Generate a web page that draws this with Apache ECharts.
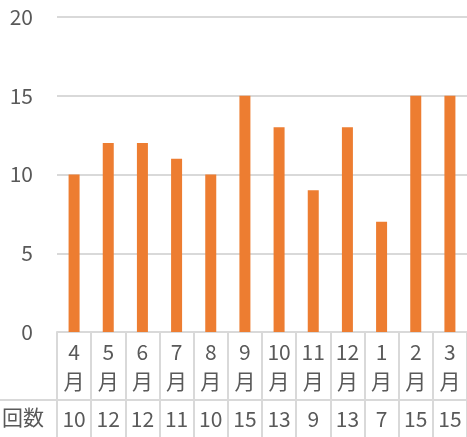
<!DOCTYPE html>
<html>
<head>
<meta charset="utf-8">
<script src="https://cdn.jsdelivr.net/npm/echarts@6/dist/echarts.min.js"></script>
<style>
  html, body { margin: 0; padding: 0; background: #fff; }
  #main { width: 467px; height: 437px; }
</style>
</head>
<body>
<div id="main"></div>
<script>
// 月ごとの回数
const months = ['4\n月', '5\n月', '6\n月', '7\n月', '8\n月', '9\n月', '10\n月', '11\n月', '12\n月', '1\n月', '2\n月', '3\n月'];
const counts = [10, 12, 12, 11, 10, 15, 13, 9, 13, 7, 15, 15];
const rowName = '回数';
const yTicks = { min: 0, max: 20, interval: 5 };

const txt = '#595959';
const line = '#d9d9d9';
const font = "'Noto Sans CJK JP', 'Noto Sans', sans-serif";

const chart = echarts.init(document.getElementById('main'));
chart.setOption({
  animation: false,
  textStyle: { fontFamily: font },
  grid: { left: 57, top: 17, width: 415, height: 315 },
  xAxis: [
    {
      type: 'category',
      data: months,
      axisLine: { show: true, lineStyle: { color: line, width: 2 } },
      axisTick: { show: true, interval: 0, length: 110, lineStyle: { color: line, width: 2 } },
      axisLabel: { interval: 0, color: txt, fontSize: 21, lineHeight: 29, margin: 6, fontFamily: font }
    },
    {
      type: 'category',
      position: 'bottom',
      offset: 68,
      data: counts.map(String),
      axisLine: { show: true, lineStyle: { color: line, width: 2 } },
      axisTick: { show: false },
      axisLabel: { interval: 0, color: txt, fontSize: 21, margin: 9, fontFamily: font }
    }
  ],
  yAxis: {
    type: 'value',
    min: yTicks.min,
    max: yTicks.max,
    interval: yTicks.interval,
    axisLine: { show: false },
    axisTick: { show: false },
    splitLine: { lineStyle: { color: line, width: 2 } },
    axisLabel: { color: txt, fontSize: 21, margin: 24, fontFamily: font }
  },
  graphic: [
    { type: 'line', shape: { x1: 0, y1: 400, x2: 57, y2: 400 }, style: { stroke: line, lineWidth: 2 } },
    { type: 'text', left: 2, top: 407, style: { text: rowName, fill: txt, font: '21px ' + font } }
  ],
  series: [{
    type: 'bar',
    data: counts,
    barWidth: 11,
    itemStyle: { color: '#ED7D31' }
  }]
});
</script>
</body>
</html>
